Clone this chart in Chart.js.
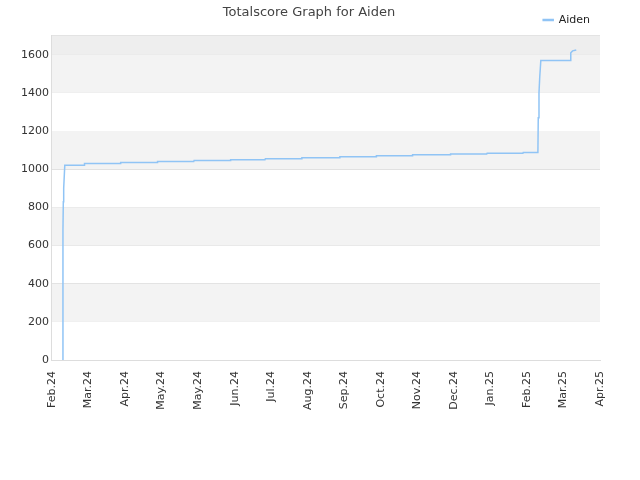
<!DOCTYPE html>
<html>
<head>
<script src="https://cdn.jsdelivr.net/npm/chart.js@4/dist/chart.umd.min.js"></script>
<style>body{margin:0;background:#fff}#wrap{width:640px;height:480px}</style>
</head>
<body>
<div id="wrap"><canvas id="c"></canvas></div>
<script>
// tick labels (evenly spaced ticks, labelled by month)
const tickLabels = ['Feb.24','Mar.24','Apr.24','May.24','May.24','Jun.24','Jul.24','Aug.24','Sep.24','Oct.24','Nov.24','Dec.24','Jan.25','Feb.25','Mar.25','Apr.25'];
// x positions in tick units, y = total score
const xs = [0.30,0.30,0.31,0.32,0.35,0.36,0.88,0.89,1.87,1.88,2.88,2.89,3.88,3.89,4.88,4.89,5.83,5.84,6.83,6.84,7.87,7.88,8.87,8.88,9.86,9.87,10.90,10.91,11.90,11.91,12.89,12.90,13.30,13.31,13.33,13.35,13.38,13.40,14.18,14.20,14.25,14.35];
const ys = [0,680,830,900,1020,1020,1020,1030,1030,1035,1035,1040,1040,1045,1045,1050,1050,1055,1055,1060,1060,1065,1065,1070,1070,1075,1075,1080,1080,1083,1083,1088,1088,1270,1400,1480,1570,1570,1570,1610,1620,1625];

const bands = {
  id: 'bands',
  beforeDatasetsDraw(chart) {
    const {ctx, chartArea: a, scales: {y}} = chart;
    ctx.save();
    for (let v = 200; v < 1600; v += 400) {
      const t = y.getPixelForValue(v + 200), b = y.getPixelForValue(v);
      ctx.fillStyle = '#f3f3f3';
      ctx.fillRect(a.left, t, a.right - a.left, b - t);
    }
    const t = y.getPixelForValue(1700), b = y.getPixelForValue(1600);
    ctx.fillStyle = '#eeeeee';
    ctx.fillRect(a.left, t, a.right - a.left, b - t);
    ctx.restore();
  }
};

new Chart(document.getElementById('c'), {
  type: 'line',
  data: {
    datasets: [{
      label: 'Aiden',
      data: xs.map((x, i) => ({x: x, y: ys[i]})),
      borderColor: '#90c4f5',
      backgroundColor: '#90c4f5',
      borderWidth: 1.5,
      pointRadius: 0,
      tension: 0
    }]
  },
  options: {
    responsive: true,
    maintainAspectRatio: false,
    animation: false,
    layout: {padding: {left: 18, right: 40, top: 0, bottom: 67}},
    plugins: {
      title: {display: true, text: 'Totalscore Graph for Aiden', color: '#444', font: {family: 'DejaVu Sans', size: 13, weight: 'normal'}, padding: {top: 5, bottom: -16}},
      legend: {align: 'end', labels: {boxWidth: 10, boxHeight: 1, color: '#222', font: {family: 'DejaVu Sans', size: 11}}},
      tooltip: {enabled: false}
    },
    scales: {
      x: {
        type: 'linear', min: 0, max: 15,
        ticks: {stepSize: 1, autoSkip: false, maxRotation: 90, minRotation: 90, color: '#333', font: {family: 'DejaVu Sans', size: 11},
          callback: v => tickLabels[v] ?? ''},
        grid: {display: false},
        border: {color: '#ddd'}
      },
      y: {
        min: 0, max: 1700,
        ticks: {stepSize: 200, color: '#333', font: {family: 'DejaVu Sans', size: 11}, callback: v => v % 200 === 0 ? v : ''},
        grid: {color: '#ddd', drawTicks: false},
        border: {color: '#ddd'}
      }
    }
  },
  plugins: [bands]
});
</script>
</body>
</html>
